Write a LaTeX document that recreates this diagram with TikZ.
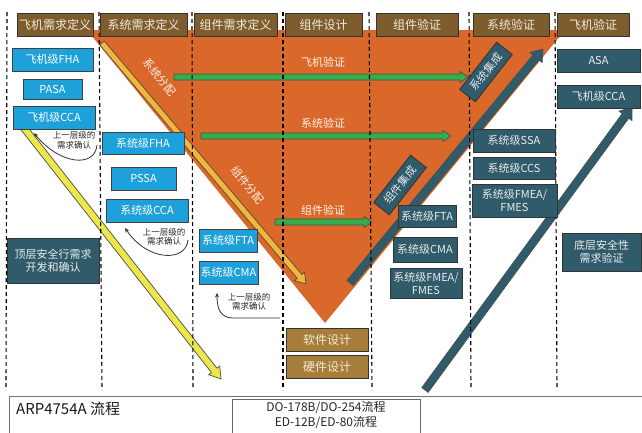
\documentclass[tikz,border=0pt]{standalone}
\usepackage{fontspec}
\setmainfont{Noto Sans CJK SC}
\usetikzlibrary{calc,arrows.meta}
\definecolor{orng}{HTML}{DA682A}
\definecolor{hdrbrown}{HTML}{7D5C2E}
\definecolor{swbrown}{HTML}{A67E3A}
\definecolor{bluefill}{HTML}{1EA0DA}
\definecolor{tealfill}{HTML}{2F5B6B}
\definecolor{lemon}{HTML}{ECE84B}
\definecolor{gold}{HTML}{F3B53A}
\definecolor{grn}{HTML}{34AE4A}
\definecolor{cream}{HTML}{F3EBD9}
\newcommand\mybox[7]{\node[#2, minimum width={(#5-#3)*1pt}, minimum height={(#6-#4)*1pt}] (#1) at ({(#3+#5)/2},{(#4+#6)/2}) {#7};}
\newcommand\fatarrow[6]{%
  \path ($(#3)!#6!(#2)$) coordinate (fahb);
  \filldraw[#1] ($(#2)!#4!90:(#3)$) -- ($(fahb)!#4!90:(#3)$) -- ($(fahb)!#5!90:(#3)$) -- (#3)
    -- ($(fahb)!#5!-90:(#3)$) -- ($(fahb)!#4!-90:(#3)$) -- ($(#2)!#4!-90:(#3)$) -- cycle;}
\tikzset{
  basebox/.style={rectangle, inner sep=0pt, align=center, line width=0.8pt},
  hdr/.style={basebox, fill=hdrbrown, draw=black!80, text=cream, font=\fontsize{12}{14}\selectfont},
  swbox/.style={basebox, fill=swbrown, draw=black!80, text=cream, font=\fontsize{12}{14}\selectfont},
  bluebox/.style={basebox, fill=bluefill, draw=black!75, text=white, font=\fontsize{11}{13}\selectfont},
  tealbox/.style={basebox, fill=tealfill, draw=black!80, text=white!92!black, font=\fontsize{11}{13}\selectfont},
  rotbox/.style={tealbox, minimum width=60pt, minimum height=20pt, rotate=52},
  orlabel/.style={text=white!92!orange, font=\fontsize{11}{13}\selectfont, inner sep=0pt},
  sepline/.style={black, line width=1.1pt, dash pattern=on 4pt off 3pt},
  yarr/.style={fill=lemon, draw=black!70, line width=0.7pt},
  garr/.style={fill=gold, draw=black!70, line width=0.7pt},
  grarr/.style={fill=grn, draw=black!70, line width=0.7pt},
  tarr/.style={fill=tealfill, draw=black!70, line width=0.6pt},
  thinarr/.style={draw=black!80, line width=0.8pt, -{Stealth[length=4.5pt,width=4pt]}},
  smalltxt/.style={align=center, inner sep=0pt, text=black!85, font=\fontsize{8.5}{9.5}\selectfont}
}
\begin{document}
\begin{tikzpicture}[x=1pt,y=-1pt]
\useasboundingbox (0,0) rectangle (642,432);
\clip (0,0) rectangle (642,432);
\fill[white] (0,0) rectangle (642,432);
% orange V
\coordinate (vl) at (87,30);
\coordinate (vr) at (565,30);
\coordinate (vb) at (325,323);
\fill[orng] (vl) -- (vr) -- (vb) -- cycle;
% arrows
\coordinate (ya) at (24,128); \coordinate (yb) at (221,379);
\fatarrow{yarr}{ya}{yb}{3.5pt}{7pt}{11pt}
\coordinate (ga) at (102,43); \coordinate (gb) at (306,284);
\fatarrow{garr}{ga}{gb}{3pt}{6.5pt}{10pt}
\coordinate (g1a) at (174,77); \coordinate (g1b) at (468,77);
\fatarrow{grarr}{g1a}{g1b}{3pt}{5.5pt}{8pt}
\coordinate (g2a) at (201,136); \coordinate (g2b) at (451,136);
\fatarrow{grarr}{g2a}{g2b}{3pt}{5.5pt}{8pt}
\coordinate (g3a) at (275,222); \coordinate (g3b) at (372,222);
\fatarrow{grarr}{g3a}{g3b}{3pt}{5.5pt}{8pt}
\coordinate (t1a) at (350,283); \coordinate (t1b) at (543,49);
\fatarrow{tarr}{t1a}{t1b}{4pt}{8pt}{11pt}
\coordinate (t2a) at (425,390); \coordinate (t2b) at (632,107);
\fatarrow{tarr}{t2a}{t2b}{4pt}{8pt}{11pt}
% dashed separators
\foreach \i/\xa/\xb in {1/7/6, 2/99/102, 3/192/193, 4/283/283, 5/369/372, 6/469/471, 7/555/557}{
  \coordinate (st\i) at (\xa,12);
  \coordinate (sb\i) at (\xb,390);
  \draw[sepline] (st\i) -- (sb\i);
}
% labels on orange
\node[orlabel, rotate=-50] (lsf) at (160,77) {系统分配};
\node[orlabel, rotate=-50] (lzf) at (248,185) {组件分配};
\node[orlabel] (lfy) at (323,62) {飞机验证};
\node[orlabel] (lxy) at (323,123) {系统验证};
\node[orlabel] (lzy) at (323,210) {组件验证};
\node[rotbox] (rx) at (486,72) {系统集成};
\node[rotbox] (rz) at (400,185) {组件集成};
% headers
\mybox{h1}{hdr}{17}{13}{93}{36}{飞机需求定义}
\mybox{h2}{hdr}{100}{13}{187}{36}{系统需求定义}
\mybox{h3}{hdr}{194}{13}{277}{36}{组件需求定义}
\mybox{h4}{hdr}{285}{13}{362}{36}{组件设计}
\mybox{h5}{hdr}{376}{13}{458}{36}{组件验证}
\mybox{h6}{hdr}{473}{13}{549}{36}{系统验证}
\mybox{h7}{hdr}{557}{13}{629}{36}{飞机验证}
% blue boxes
\mybox{b1}{bluebox}{12}{48}{93}{71}{飞机级FHA}
\mybox{b2}{bluebox}{23}{79}{82}{99}{PASA}
\mybox{b3}{bluebox}{13}{106}{95}{129}{飞机级CCA}
\mybox{b4}{bluebox}{102}{132}{184}{154}{系统级FHA}
\mybox{b5}{bluebox}{111}{167}{176}{190}{PSSA}
\mybox{b6}{bluebox}{106}{199}{188}{222}{系统级CCA}
\mybox{b7}{bluebox}{199}{229}{257}{252}{系统级FTA}
\mybox{b8}{bluebox}{199}{261}{258}{284}{系统级CMA}
% teal boxes
\mybox{t1}{tealbox}{7}{238}{99}{283}{顶层安全行需求\\开发和确认}
\mybox{t2}{tealbox}{398}{205}{456}{227}{系统级FTA}
\mybox{t3}{tealbox}{393}{237}{457}{262}{系统级CMA}
\mybox{t4}{tealbox}{390}{268}{462}{298}{系统级FMEA/\\FMES}
\mybox{t5}{tealbox}{473}{129}{555}{152}{系统级SSA}
\mybox{t6}{tealbox}{473}{157}{555}{179}{系统级CCS}
\mybox{t7}{tealbox}{472}{184}{557}{217}{系统级FMEA/\\FMES}
\mybox{t8}{tealbox}{557}{49}{640}{72}{ASA}
\mybox{t9}{tealbox}{557}{85}{640}{108}{飞机级CCA}
\mybox{t10}{tealbox}{562}{233}{641}{271}{底层安全性\\需求验证}
% software / hardware
\mybox{s1}{swbox}{286}{328}{368}{351}{软件设计}
\mybox{s2}{swbox}{286}{355}{368}{378}{硬件设计}
% curved confirmation arrows
\coordinate (k1s) at (97,145); \coordinate (k1e) at (34,133);
\draw[thinarr] (k1s) .. controls (95,168) and (60,165) .. (k1e);
\node[smalltxt] (k1t) at (74,140.5) {上一层级的\\需求确认};
\coordinate (k2s) at (188,240); \coordinate (k2e) at (125,228);
\draw[thinarr] (k2s) .. controls (186,262) and (148,262) .. (k2e);
\node[smalltxt] (k2t) at (164,237) {上一层级的\\需求确认};
\coordinate (k3s) at (280,318); \coordinate (k3m) at (233,318); \coordinate (k3e) at (217,293);
\draw[thinarr] (k3s) -- (k3m) .. controls (220,318) and (217,308) .. (k3e);
\node[smalltxt] (k3t) at (249,302) {上一层级的\\需求确认};
% bottom band
\node[draw=black!55, line width=1.2pt, fill=white, anchor=north west, minimum width=660pt, minimum height=60pt, inner sep=0pt] (arp) at (9,396) {};
\node[anchor=west, inner sep=0pt, font=\fontsize{15}{17}\selectfont, text=black!90] (arpt) at (16,409) {ARP4754A 流程};
\node[draw=black!60, line width=1.2pt, fill=white, anchor=north west, minimum width=188pt, minimum height=50pt, inner sep=0pt] (do) at (232,399) {};
\node[inner sep=0pt, font=\fontsize{12}{14}\selectfont, text=black!85] (dot1) at (326,408) {DO-178B/DO-254流程};
\node[inner sep=0pt, font=\fontsize{12}{14}\selectfont, text=black!85] (dot2) at (326,423) {ED-12B/ED-80流程};
\end{tikzpicture}
\end{document}
